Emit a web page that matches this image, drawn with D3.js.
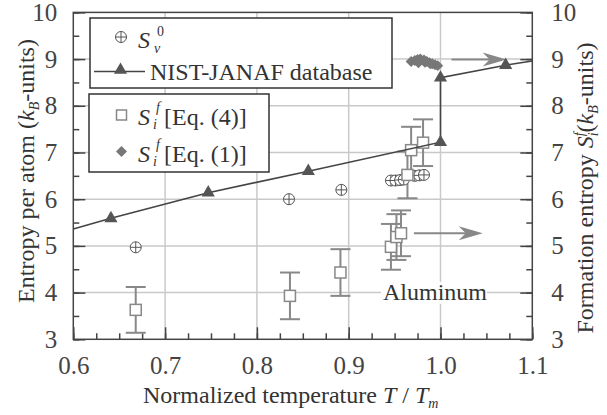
<!DOCTYPE html>
<html><head><meta charset="utf-8">
<script src="https://cdn.jsdelivr.net/npm/d3@7"></script>
<style>
svg text, svg tspan { font-family: Tinos, 'Liberation Serif', 'Times New Roman', FreeSerif, monospace; }
</style>
</head><body style="margin:0;background:#fff"><svg id="c" width="607" height="415" style="display:block"></svg>
<script>
// ---- data ----
const xTicks = [0.6, 0.7, 0.8, 0.9, 1.0, 1.1];
const xTickLabels = ["0.6", "0.7", "0.8", "0.9", "1.0", "1.1"];
const yTicks = [3, 4, 5, 6, 7, 8, 9, 10];
const nistT = [0.6, 0.641, 0.747, 0.856, 1.0, 1.0, 1.071, 1.1];
const nistS = [5.36, 5.59, 6.14, 6.60, 7.22, 8.60, 8.87, 8.96];
const nistMarked = [false, true, true, true, true, true, true, false];
const sv0T = [0.668, 0.835, 0.892, 0.946, 0.951, 0.956, 0.960, 0.972, 0.977, 0.982];
const sv0S = [4.97, 6.00, 6.20, 6.40, 6.40, 6.41, 6.42, 6.50, 6.51, 6.52];
const eq4T = [0.668, 0.836, 0.891, 0.946, 0.952, 0.957, 0.964, 0.968, 0.981];
const eq4S = [3.63, 3.93, 4.43, 4.98, 5.19, 5.27, 6.52, 7.05, 7.21];
const eq4Err = [0.49, 0.50, 0.50, 0.49, 0.49, 0.49, 0.50, 0.50, 0.50];
const eq1T = [0.968, 0.972, 0.975, 0.978, 0.982, 0.985, 0.988, 0.991, 0.994, 0.997, 0.976, 0.983, 0.989];
const eq1S = [8.95, 8.97, 8.99, 9.00, 8.98, 8.95, 8.92, 8.90, 8.88, 8.86, 8.92, 8.93, 8.90];
const arrowFromT = [1.012, 0.971];
const arrowToT = [1.072, 1.046];
const arrowS = [8.99, 5.27];

// ---- layout ----
const FONT = "Tinos, 'Liberation Serif', 'Times New Roman', FreeSerif, monospace";
const svg = d3.select("#c");
const L = 73.3, R = 532.3, T = 12.4, B = 339.3;
const x = d3.scaleLinear().domain([0.6, 1.1]).range([L, R]);
const y = d3.scaleLinear().domain([3, 10]).range([B, T]);
const axisCol = "#444", gridCol = "#c9c9c9";
function txt(sel, size) {
  return sel.append("text").style("font-family", FONT).style("font-size", size + "px").attr("fill", "#333");
}

// grid
const g = svg.append("g");
g.selectAll(".gx").data(xTicks.slice(1, -1)).join("line")
  .attr("x1", d => x(d)).attr("x2", d => x(d)).attr("y1", T).attr("y2", B)
  .attr("stroke", gridCol).attr("stroke-width", 1.5);
g.selectAll(".gy").data(yTicks.slice(1, -1)).join("line")
  .attr("y1", d => y(d)).attr("y2", d => y(d)).attr("x1", L).attr("x2", R)
  .attr("stroke", gridCol).attr("stroke-width", 1.5);

// axes
function styleAxis(sel) {
  sel.attr("font-family", null).attr("font-size", null);
  sel.select(".domain").remove();
  sel.selectAll("line").attr("stroke", axisCol).attr("stroke-width", 1.5);
  sel.selectAll("text").style("font-family", FONT).style("font-size", "25px").attr("fill", "#444");
}
const xMinor = d3.range(0.6, 1.1001, 0.025);
const yMinor = d3.range(3, 10.001, 0.5);
svg.append("g").attr("transform", `translate(0,${B})`)
  .call(d3.axisBottom(x).tickValues(xMinor).tickSize(-6).tickFormat(""))
  .call(styleAxis);
svg.append("g").attr("transform", `translate(0,${B})`)
  .call(d3.axisBottom(x).tickValues(xTicks).tickSize(-12).tickPadding(17)
    .tickFormat((d, i) => xTickLabels[i]))
  .call(styleAxis);
svg.append("g").attr("transform", `translate(${L},0)`)
  .call(d3.axisLeft(y).tickValues(yMinor).tickSize(-6).tickFormat(""))
  .call(styleAxis);
svg.append("g").attr("transform", `translate(${L},0)`)
  .call(d3.axisLeft(y).tickValues(yTicks).tickSize(-12).tickPadding(16).tickFormat(d3.format("d")))
  .call(styleAxis);
svg.append("g").attr("transform", `translate(${R},0)`)
  .call(d3.axisRight(y).tickValues(yMinor).tickSize(-6).tickFormat(""))
  .call(styleAxis);
svg.append("g").attr("transform", `translate(${R},0)`)
  .call(d3.axisRight(y).tickValues(yTicks).tickSize(-12).tickPadding(19).tickFormat(d3.format("d")))
  .call(styleAxis);

// frame
svg.append("rect").attr("x", L).attr("y", T).attr("width", R - L).attr("height", B - T)
  .attr("fill", "none").attr("stroke", axisCol).attr("stroke-width", 1.5);

// Aluminum label
const alX = 383, alY = 300;
svg.append("rect").attr("x", alX - 2).attr("y", alY - 18).attr("width", 106).attr("height", 22).attr("fill", "#fff");
txt(svg, 24).attr("x", alX).attr("y", alY).text("Aluminum");

// arrows
function arrow(x1, x2, yy) {
  svg.append("line").attr("x1", x1).attr("x2", x2 - 6).attr("y1", yy).attr("y2", yy)
    .attr("stroke", "#888").attr("stroke-width", 2);
  svg.append("path").attr("d", `M${x2},${yy} L${x2 - 24},${yy - 7} L${x2 - 17},${yy} L${x2 - 24},${yy + 7} Z`)
    .attr("fill", "#888");
}
arrowS.forEach((s, i) => arrow(x(arrowFromT[i]), x(arrowToT[i]), y(s)));

// Eq.4 error bars and squares
const eq4 = eq4T.map((t, i) => ({ t, s: eq4S[i], e: eq4Err[i] }));
const eb = svg.append("g").attr("stroke", "#888").attr("stroke-width", 2);
eq4.forEach(d => {
  eb.append("line").attr("x1", x(d.t)).attr("x2", x(d.t)).attr("y1", y(d.s - d.e)).attr("y2", y(d.s + d.e));
  [d.s - d.e, d.s + d.e].forEach(v => eb.append("line").attr("x1", x(d.t) - 10).attr("x2", x(d.t) + 10)
    .attr("y1", y(v)).attr("y2", y(v)));
});

// Sv0 circled plus
const sv0 = sv0T.map((t, i) => ({ t, s: sv0S[i] }));
function oplus(sel, cx, cy) {
  const gg = sel.append("g").attr("transform", `translate(${cx},${cy})`)
    .attr("stroke", "#555").attr("stroke-width", 1).attr("fill", "none");
  gg.append("circle").attr("r", 5.5).attr("fill", "#fff");
  gg.append("line").attr("x1", -5.5).attr("x2", 5.5);
  gg.append("line").attr("y1", -5.5).attr("y2", 5.5);
}
sv0.forEach(d => oplus(svg, x(d.t), y(d.s)));

eq4.forEach(d => svg.append("rect").attr("x", x(d.t) - 5.5).attr("y", y(d.s) - 5.5)
  .attr("width", 11).attr("height", 11).attr("fill", "#fff").attr("stroke", "#888").attr("stroke-width", 1.5));

// NIST line
const nist = nistT.map((t, i) => ({ t, s: nistS[i], m: nistMarked[i] }));
svg.append("path").datum(nist)
  .attr("d", d3.line().x(d => x(d.t)).y(d => y(d.s)))
  .attr("fill", "none").attr("stroke", "#444").attr("stroke-width", 1.6);
const tri = d3.symbol().type(d3.symbolTriangle).size(75);
svg.selectAll(".tri").data(nist.filter(d => d.m)).join("path")
  .attr("d", tri).attr("transform", d => `translate(${x(d.t)},${y(d.s)})`).attr("fill", "#555");

// Eq.1 diamonds (rotated squares)
const dia = d3.symbol().type(d3.symbolSquare).size(60);
svg.selectAll(".dia").data(eq1T.map((t, i) => ({ t, s: eq1S[i] }))).join("path")
  .attr("d", dia).attr("transform", d => `translate(${x(d.t)},${y(d.s)}) rotate(45)`).attr("fill", "#777");

// Legend 1
svg.append("rect").attr("x", 90).attr("y", 18).attr("width", 302).attr("height", 70)
  .attr("fill", "#fff").attr("stroke", "#333").attr("stroke-width", 1.5);
oplus(svg, 121, 37);
txt(svg, 24).attr("x", 138).attr("y", 48).style("font-style", "italic").text("S");
txt(svg, 14).attr("x", 157).attr("y", 36).text("0");
txt(svg, 14).attr("x", 154).attr("y", 53).style("font-style", "italic").text("v");
svg.append("line").attr("x1", 94).attr("x2", 145).attr("y1", 71.5).attr("y2", 71.5).attr("stroke", "#444").attr("stroke-width", 1.6);
svg.append("path").attr("d", tri).attr("transform", "translate(120.5,70)").attr("fill", "#555");
txt(svg, 24).attr("x", 150).attr("y", 80).text("NIST-JANAF database");

// Legend 2
svg.append("rect").attr("x", 89).attr("y", 94).attr("width", 180).attr("height", 78)
  .attr("fill", "#fff").attr("stroke", "#333").attr("stroke-width", 1.5);
svg.append("rect").attr("x", 116.5).attr("y", 110).attr("width", 10).attr("height", 10)
  .attr("fill", "#fff").attr("stroke", "#888").attr("stroke-width", 1.5);
svg.append("path").attr("d", dia).attr("transform", "translate(121.5,151.5) rotate(45)").attr("fill", "#777");
[["[Eq. (4)]", 125], ["[Eq. (1)]", 162]].forEach(([lab, by]) => {
  txt(svg, 24).attr("x", 138).attr("y", by).style("font-style", "italic").text("S");
  txt(svg, 14).attr("x", 156).attr("y", by - 13).style("font-style", "italic").text("f");
  txt(svg, 14).attr("x", 153).attr("y", by + 4).style("font-style", "italic").text("i");
  txt(svg, 24).attr("x", 164).attr("y", by).text(lab);
});

// Axis titles
const xl = txt(svg, 24).attr("x", 143).attr("y", 403);
xl.append("tspan").text("Normalized temperature ");
xl.append("tspan").style("font-style", "italic").text("T");
xl.append("tspan").text(" / ");
xl.append("tspan").style("font-style", "italic").text("T");
xl.append("tspan").style("font-size", "14px").style("font-style", "italic").attr("dy", 5).text("m");

const yl = txt(svg, 24).attr("transform", "translate(34,171) rotate(-90)").attr("text-anchor", "middle");
yl.append("tspan").text("Entropy per atom (");
yl.append("tspan").style("font-style", "italic").text("k");
yl.append("tspan").style("font-size", "14px").style("font-style", "italic").attr("dy", 5).text("B");
yl.append("tspan").attr("dy", -5).text("-units)");

const yr = txt(svg, 24).attr("transform", "translate(593,188) rotate(-90)").attr("text-anchor", "middle");
yr.append("tspan").text("Formation entropy ");
yr.append("tspan").style("font-style", "italic").text("S");
yr.append("tspan").style("font-size", "14px").style("font-style", "italic").attr("dy", -9).text("f");
yr.append("tspan").style("font-size", "14px").style("font-style", "italic").attr("dx", -4).attr("dy", 14).text("i");
yr.append("tspan").attr("dy", -5).text("(");
yr.append("tspan").style("font-style", "italic").text("k");
yr.append("tspan").style("font-size", "14px").style("font-style", "italic").attr("dy", 5).text("B");
yr.append("tspan").attr("dy", -5).text("-units)");
</script></body></html>
